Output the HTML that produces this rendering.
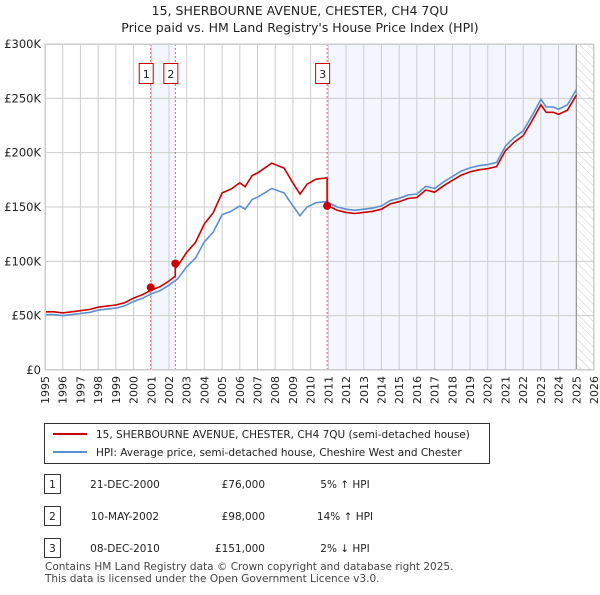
<!DOCTYPE html>
<html><head><meta charset="utf-8"><style>
body{margin:0;background:#fff;font-family:"Liberation Sans","DejaVu Sans",sans-serif;}
svg text{font-family:"DejaVu Sans","Liberation Sans",sans-serif;}
</style></head><body>
<svg id="c" width="600" height="590" viewBox="0 0 600 590" xmlns="http://www.w3.org/2000/svg">
<defs><pattern id="hatch" width="6" height="6" patternUnits="userSpaceOnUse" patternTransform="rotate(-45)"><line x1="0" y1="0" x2="0" y2="6" stroke="#ccc" stroke-width="1"/></pattern></defs>
<text x="300" y="15" text-anchor="middle" font-size="12.5" fill="#222">15, SHERBOURNE AVENUE, CHESTER, CH4 7QU</text>
<text x="300" y="32" text-anchor="middle" font-size="12.5" fill="#222">Price paid vs. HM Land Registry's House Price Index (HPI)</text>
<g id="plot"></g>
<g>
<rect x="44.5" y="423.5" width="445" height="40" fill="#fff" stroke="#333"/>
<line x1="53" y1="434" x2="87" y2="434" stroke="#cc0000" stroke-width="2"/>
<text x="96" y="438" font-size="10.5" fill="#222">15, SHERBOURNE AVENUE, CHESTER, CH4 7QU (semi-detached house)</text>
<line x1="53" y1="452" x2="87" y2="452" stroke="#5b8fd0" stroke-width="2"/>
<text x="96" y="456" font-size="10.5" fill="#222">HPI: Average price, semi-detached house, Cheshire West and Chester</text>
</g>
<g id="table" font-size="10.5" fill="#222"></g>
<text x="45" y="570" font-size="10.5" fill="#444">Contains HM Land Registry data © Crown copyright and database right 2025.</text>
<text x="45" y="582" font-size="10.5" fill="#444">This data is licensed under the Open Government Licence v3.0.</text>
</svg>
<script>
const hpiYears=[1995,1995.5,1996,1996.5,1997,1997.5,1998,1998.5,1999,1999.5,2000,2000.5,2001,2001.5,2002,2002.5,2003,2003.5,2004,2004.5,2005,2005.5,2006,2006.3,2006.7,2007,2007.5,2007.8,2008.5,2009,2009.4,2009.8,2010.3,2010.9,2011.5,2012,2012.5,2013,2013.5,2014,2014.5,2015,2015.5,2016,2016.5,2017,2017.5,2018,2018.5,2019,2019.5,2020,2020.5,2021,2021.5,2022,2022.5,2023,2023.3,2023.7,2024,2024.5,2025];
const hpiValues=[51,51,50,51,52,53,55,56,57,59,63,66,70,73,78,84,95,103,118,127,143,146,151,148,157,159,164,167,163,151,142,150,154,155,150,148,147,148,149,151,156,158,161,162,169,167,173,178,183,186,188,189,191,206,214,220,234,249,242,242,240,244,258];
const saleLabels=["1","2","3"];
const saleDates=[2000.97,2002.36,2010.93];
const salePrices=[76,98,151];
const saleHpiPct=[5,14,-2];
const saleDateText=["21-DEC-2000","10-MAY-2002","08-DEC-2010"];
const salePriceText=["£76,000","£98,000","£151,000"];
const saleHpiText=["5% ↑ HPI","14% ↑ HPI","2% ↓ HPI"];
const yTicks=[0,50,100,150,200,250,300];
const yTickLabels=["£0","£50K","£100K","£150K","£200K","£250K","£300K"];
const xTicks=[1995,1996,1997,1998,1999,2000,2001,2002,2003,2004,2005,2006,2007,2008,2009,2010,2011,2012,2013,2014,2015,2016,2017,2018,2019,2020,2021,2022,2023,2024,2025,2026];

const X0=45,X1=594,Y0=370,Y1=44,xMin=1995,xMax=2026,yMax=300,dataEnd=2025;
const sx=v=>X0+(v-xMin)/(xMax-xMin)*(X1-X0);
const sy=v=>Y0-v/yMax*(Y0-Y1);
const NS="http://www.w3.org/2000/svg";
const plot=document.getElementById('plot');
function mk(tag,attrs,parent){const e=document.createElementNS(NS,tag);for(const k in attrs)e.setAttribute(k,attrs[k]);(parent||plot).appendChild(e);return e;}
function hpiAt(t){for(let i=1;i<hpiYears.length;i++){if(t<=hpiYears[i]){const f=(t-hpiYears[i-1])/(hpiYears[i]-hpiYears[i-1]);return hpiValues[i-1]+f*(hpiValues[i]-hpiValues[i-1]);}}return hpiValues[hpiValues.length-1];}

let r=mk('rect',{x:sx(saleDates[0]),y:Y1,width:sx(saleDates[1])-sx(saleDates[0]),height:Y0-Y1,fill:'#eef3fc',opacity:0.7});

r=mk('rect',{x:sx(saleDates[2]),y:Y1,width:sx(dataEnd)-sx(saleDates[2]),height:Y0-Y1,fill:'#eef3fc',opacity:0.7});

r=mk('rect',{x:sx(dataEnd),y:Y1,width:X1-sx(dataEnd),height:Y0-Y1,fill:'url(#hatch)'});

xTicks.forEach((t,i)=>{const l=mk('line',{x1:sx(t),x2:sx(t),y1:Y1,y2:Y0,stroke:'#ccc','stroke-width':1});

const tx=mk('text',{x:0,y:0,'font-size':11,fill:'#222','text-anchor':'end',transform:`translate(${sx(t)+4},${Y0+6}) rotate(-90)`});tx.textContent=t;
});
yTicks.forEach((v,i)=>{const l=mk('line',{x1:X0,x2:X1,y1:sy(v),y2:sy(v),stroke:'#ccc','stroke-width':1});

const tx=mk('text',{x:X0-4,y:sy(v)+4,'font-size':11.5,fill:'#222','text-anchor':'end'});tx.textContent=yTickLabels[i];
});
let ax=mk('line',{x1:sx(dataEnd),x2:sx(dataEnd),y1:Y1,y2:Y0,stroke:'#888','stroke-width':1});

saleDates.forEach((d,i)=>{const l=mk('line',{x1:sx(d),x2:sx(d),y1:Y1,y2:Y0,stroke:'#e06060','stroke-width':1,'stroke-dasharray':'2,2'});

const b=mk('rect',{x:sx(d)-11.5,y:63.5,width:14,height:20,fill:'#fff',stroke:'#cc0000'});

const t=mk('text',{x:sx(d)-4.5,y:78,'font-size':11,fill:'#222','text-anchor':'middle'});t.textContent=saleLabels[i];
});
let pts=hpiYears.map((t,i)=>sx(t).toFixed(1)+','+sy(hpiValues[i]).toFixed(1)).join(' ');
let pl=mk('polyline',{points:pts,fill:'none',stroke:'#5b8fd0','stroke-width':1.6});

const ratios=saleHpiPct.map(p=>1+p/100);
function ratioAt(t){let k=0;for(let i=0;i<saleDates.length;i++)if(t>=saleDates[i])k=i;return ratios[k];}
let times=hpiYears.slice();saleDates.forEach(d=>{times.push(d-0.001);times.push(d);});times.sort((a,b)=>a-b);
pts=times.map(t=>sx(t).toFixed(1)+','+sy(hpiAt(t)*ratioAt(t)).toFixed(1)).join(' ');
pl=mk('polyline',{points:pts,fill:'none',stroke:'#cc0000','stroke-width':1.6});

saleDates.forEach((d,i)=>{const c=mk('circle',{cx:sx(d),cy:sy(salePrices[i]),r:4,fill:'#cc0000'});
});
let fr=mk('rect',{x:X0+0.5,y:Y1+0.5,width:X1-X0-1,height:Y0-Y1-1,fill:'none',stroke:'#ccc'});

const tb=document.getElementById('table');
saleLabels.forEach((s,i)=>{const y=487+i*32;
const b=mk('rect',{x:44.5,y:y-12.5,width:16,height:19,fill:'#fff',stroke:'#333'},tb);

const vals=[[52.5,s,'middle'],[125,saleDateText[i],'middle'],[265,salePriceText[i],'end'],[345,saleHpiText[i],'middle']];
vals.forEach(v=>{const t=mk('text',{x:v[0],y:y+1,'text-anchor':v[2]},tb);t.textContent=v[1];
});});
</script>
</body></html>
